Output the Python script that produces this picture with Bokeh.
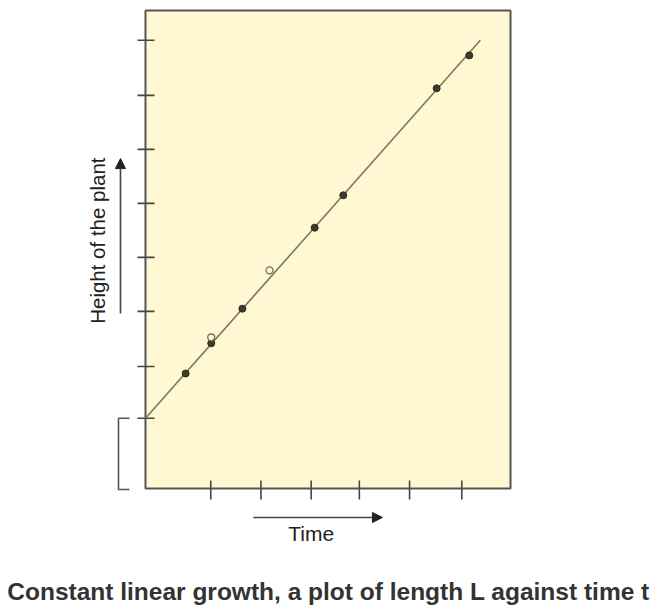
import math
from bokeh.plotting import figure
from bokeh.models import Range1d, Label, Arrow, NormalHead
from bokeh.embed import file_html
from bokeh.resources import INLINE

# ---- data ----
time_ticks = [1.3, 2.3, 3.3, 4.26, 5.26, 6.3]
height_ticks = [1.3, 2.26, 3.28, 4.28, 5.28, 6.28, 7.28, 8.3]

filled_time = [0.80, 1.31, 1.93, 3.37, 3.94, 5.80, 6.45]
filled_height = [2.13, 2.69, 3.33, 4.83, 5.43, 7.41, 8.02]
open_time = [1.31, 2.47]
open_height = [2.80, 4.04]

fit_time = [0.0, 6.67]
fit_height = [1.3, 8.3]

time_max = 7.271
height_max = 8.852

title_text = "Constant linear growth, a plot of length L against time t"
x_label = "Time"
y_label = "Height of the plant"

# ---- figure: the whole canvas is the data frame, the panel is drawn in it ----
p = figure(width=654, height=607, output_backend="svg", toolbar_location=None,
           x_range=Range1d(-2.888, 10.139), y_range=Range1d(-2.204, 9.037),
           min_border=0)
p.axis.visible = False
p.grid.visible = False
p.outline_line_color = None
p.background_fill_color = "white"
p.border_fill_color = "white"

PANEL = "#FFF8D3"
EDGE = "#555555"

# tick marks crossing the panel edges
p.segment(x0=[-0.159] * len(height_ticks), y0=height_ticks,
          x1=[0.179] * len(height_ticks), y1=height_ticks,
          line_color="#444444", line_width=1.6)
p.segment(x0=time_ticks, y0=[0.148] * len(time_ticks),
          x1=time_ticks, y1=[-0.204] * len(time_ticks),
          line_color="#444444", line_width=1.6)

# panel
p.quad(left=[0], right=[time_max], bottom=[0], top=[height_max],
       fill_color=PANEL, line_color=EDGE, line_width=2)
# redraw tick parts inside panel
p.segment(x0=[0] * len(height_ticks), y0=height_ticks,
          x1=[0.179] * len(height_ticks), y1=height_ticks,
          line_color="#444444", line_width=1.6)
p.segment(x0=time_ticks, y0=[0.148] * len(time_ticks),
          x1=time_ticks, y1=[0] * len(time_ticks),
          line_color="#444444", line_width=1.6)

# fitted line
p.line(fit_time, fit_height, line_color="#7b7960", line_width=1.6)
# points
p.scatter(filled_time, filled_height, size=7, fill_color="#3e3b2c",
          line_color="#2e2c20", line_width=1)
p.scatter(open_time, open_height, size=7, fill_color=PANEL,
          line_color="#6e6c5c", line_width=1.3)

# bracket on the left (initial length)
bx, bx2 = -0.538, -0.319
btop, bbot = 1.3, -0.02
p.line([bx2, bx, bx, bx2], [btop, btop, bbot, bbot], line_color=EDGE, line_width=1.6)

# axis arrows
p.add_layout(Arrow(end=NormalHead(size=10, fill_color="#222222", line_color="#222222"),
                   x_start=-0.498, y_start=3.24, x_end=-0.498, y_end=6.11,
                   line_color="#444444", line_width=1.6))
p.add_layout(Arrow(end=NormalHead(size=10, fill_color="#222222", line_color="#222222"),
                   x_start=2.15, y_start=-0.537, x_end=4.72, y_end=-0.537,
                   line_color="#444444", line_width=1.6))

# texts
p.add_layout(Label(x=3.30, y=-0.833, text=x_label, text_align="center",
                   text_baseline="middle", text_font="Liberation Sans",
                   text_font_size="21px", text_color="#222222"))
p.add_layout(Label(x=-0.956, y=4.59, text=y_label, text_align="center",
                   text_baseline="middle", angle=math.pi / 2,
                   text_font="Liberation Sans", text_font_size="20.5px",
                   text_color="#222222"))
p.add_layout(Label(x=3.645, y=-1.907, text=title_text, text_align="center",
                   text_baseline="middle", text_font="Liberation Sans",
                   text_font_style="bold", text_font_size="24.5px",
                   text_color="#333333"))

open("out.html", "w").write(file_html(p, INLINE))
